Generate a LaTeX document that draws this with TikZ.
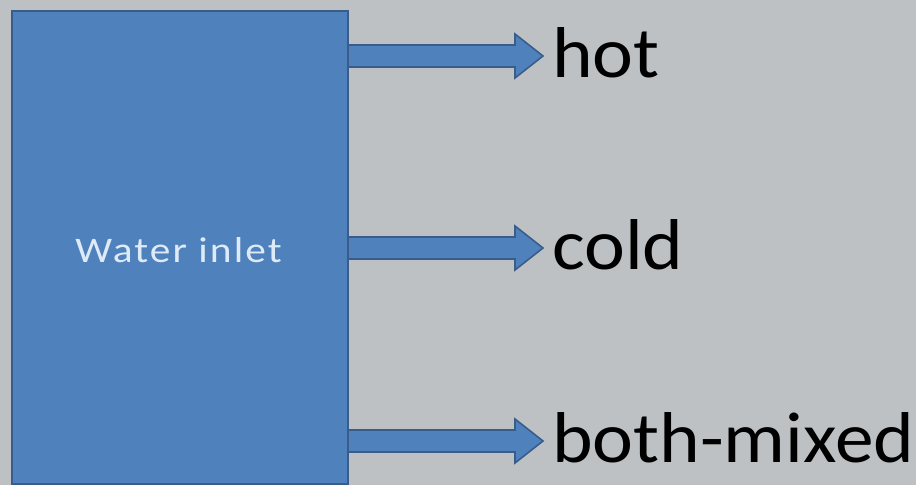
\documentclass[tikz,border=0pt]{standalone}
\usepackage{fontspec}
\setmainfont{Carlito}
\usetikzlibrary{calc}
\definecolor{bg}{RGB}{189,193,195}
\definecolor{boxfill}{RGB}{79,129,189}
\definecolor{boxline}{RGB}{56,93,138}
\definecolor{lighttext}{RGB}{222,235,247}
\begin{document}
\begin{tikzpicture}[x=0.75pt,y=-0.75pt,
  inletbox/.style={draw=boxline,fill=boxfill,line width=1.5pt,minimum width=336*0.75pt,minimum height=473*0.75pt,inner sep=0pt},
  outlabel/.style={anchor=base west,inner sep=0pt,xscale=1.075,font=\fontsize{54}{60}\selectfont,text=black},
  barrow/.style={draw=boxline,fill=boxfill,line width=1.2pt,line join=miter}]
\fill[bg] (0,0) rectangle (916,485);
\useasboundingbox (0,0) rectangle (916,485);
\node[inletbox] (inlet) at (180,247.5) {};
\node[anchor=base,inner sep=0pt,xscale=1.15,text=lighttext,font=\fontsize{27}{30}\selectfont\addfontfeature{LetterSpace=5}] (lbl) at (178.5,262) {Water inlet};
\coordinate (t1) at (543,56);
\coordinate (t2) at (543,248);
\coordinate (t3) at (543,441);
\node[outlabel] (hot) at ($(t1)+(9,21)$) {hot};
\node[outlabel] (cold) at ($(t2)+(9,21)$) {cold};
\node[outlabel] (mixed) at ($(t3)+(9,21)$) {both-mixed};
\foreach \t in {t1,t2,t3}{
  \draw[barrow] let \p1=(inlet.east |- \t), \p2=(\t) in
    (\x1,\y1+8.25pt) -- (\x2-21pt,\y1+8.25pt) -- (\x2-21pt,\y1+16.5pt) -- (\x2,\y1)
    -- (\x2-21pt,\y1-16.5pt) -- (\x2-21pt,\y1-8.25pt) -- (\x1,\y1-8.25pt);
}
\end{tikzpicture}
\end{document}
